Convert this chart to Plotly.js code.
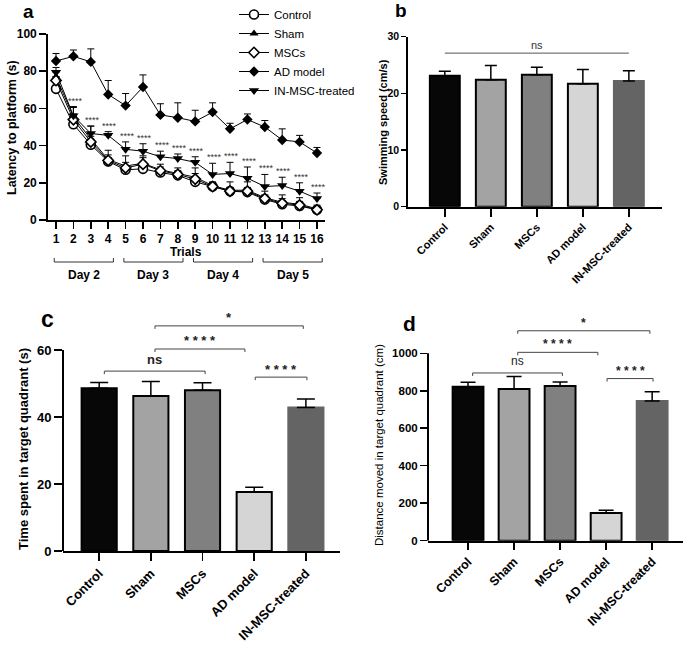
<!DOCTYPE html>
<html>
<head>
<meta charset="utf-8">
<script src="https://cdn.plot.ly/plotly-3.0.1.min.js"></script>
<style>
  body { margin: 0; background: #fff; }
  #chart { width: 685px; height: 646px; }
</style>
</head>
<body>
<div id="chart"></div>
<script>
const W = 685, H = 646;

// ---- data ----
const trials = [1, 2, 3, 4, 5, 6, 7, 8, 9, 10, 11, 12, 13, 14, 15, 16];
const groups = ['Control', 'Sham', 'MSCs', 'AD model', 'IN-MSC-treated'];
const days = ['Day 2', 'Day 3', 'Day 4', 'Day 5'];
const trialsPerDay = 4;

// panel a: latency to platform (s), mean and upper SEM
const latencyControl = [70.5, 51.5, 40.5, 31.5, 27, 27.5, 25.5, 24, 20.5, 18, 15.5, 15, 11, 8.5, 7.5, 5.5];
const latencySham = [77, 55.5, 43.5, 32.5, 29, 30.5, 27, 25, 23, 18.5, 16, 16, 12, 9.5, 8.5, 6];
const latencyMSCs = [75, 54, 42, 32, 28, 30, 26.5, 24.5, 22, 18, 15.5, 15.5, 11.5, 9, 8, 5.5];
const latencyAD = [85.5, 88, 85, 67.5, 61.5, 71.5, 56.5, 55, 53, 58, 49, 54, 50, 43, 42, 36];
const latencyIN = [79.5, 56, 46.5, 45.5, 38, 37, 34, 33, 31, 24.5, 25, 22.5, 18, 18.5, 15.5, 11.5];

const latencyControlErr = [2, 2.5, 2.5, 2, 2, 2, 2, 2, 2, 2, 2, 2, 2, 2, 1.5, 1.5];
const latencyShamErr = [3, 5, 7, 5, 5.5, 4, 3, 3, 5, 2, 4.5, 4.5, 3.5, 4, 3.5, 2];
const latencyMSCsErr = [2, 3, 3, 3, 3, 3.5, 2, 2, 3, 2, 2, 2, 2, 2.5, 2, 1.5];
const latencyADErr = [4, 3.4, 7, 7.5, 6.5, 6.5, 6, 8, 6, 5, 3, 3, 3.5, 6, 3.5, 3];
const latencyINErr = [2.5, 5, 4, 2, 4, 4, 3, 2.5, 3, 6, 6, 6, 6.5, 4.5, 4.5, 3];

// significance of IN-MSC-treated vs AD model per trial
const latencySig = ['', '****', '****', '****', '****', '****', '****', '****', '****', '****', '****', '****', '****', '****', '****', '****'];

// panel b: swimming speed (cm/s)
const swimSpeed = [23.1, 22.4, 23.3, 21.7, 22.2];
const swimSpeedErr = [0.8, 2.5, 1.3, 2.5, 1.8];
const swimSig = 'ns';

// panel c: time spent in target quadrant (s)
const timeInQuadrant = [48.6, 46.3, 48.0, 17.6, 42.8];
const timeInQuadrantErr = [1.7, 4.3, 2.2, 1.4, 2.6];

// panel d: distance moved in target quadrant (cm)
const distanceMoved = [822, 810, 825, 148, 745];
const distanceMovedErr = [24, 66, 22, 14, 50];

// comparisons drawn above c and d: [from group, to group, label]
const comparisons = [[0, 2, 'ns'], [1, 3, '****'], [1, 4, '*'], [3, 4, '****']];

// ---- helpers ----
const FONT = 'Liberation Sans, Arial, Helvetica, sans-serif';
const px = v => v / W;
const py = v => 1 - v / H;
const zeros = arr => arr.map(() => 0);
const groupX = groups.map((g, i) => i);

const barColors = ['#070707', '#a3a3a3', '#808080', '#d5d5d5', '#646464'];
const barEdges = ['#000', '#000', '#000', '#000', '#646464'];

function axis(extra) {
    return Object.assign({
        showline: true, linecolor: 'black', linewidth: 1.8,
        ticks: 'outside', tickcolor: 'black', tickwidth: 1.5,
        showgrid: false, zeroline: false, fixedrange: true,
        tickfont: { family: FONT, size: 12, color: 'black', weight: 'bold' }
    }, extra);
}

function bold(size) {
    return { family: FONT, size: size, color: 'black', weight: 'bold' };
}

// ---- panel a traces ----
const latencySeries = [
    { name: groups[0], y: latencyControl, e: latencyControlErr,
      marker: { symbol: 'circle', size: 9, color: 'white', line: { color: 'black', width: 1.6 } } },
    { name: groups[1], y: latencySham, e: latencyShamErr,
      marker: { symbol: 'triangle-up', size: 8, color: 'black' } },
    { name: groups[2], y: latencyMSCs, e: latencyMSCsErr,
      marker: { symbol: 'diamond', size: 8, color: 'white', line: { color: 'black', width: 1.6 } } },
    { name: groups[3], y: latencyAD, e: latencyADErr,
      marker: { symbol: 'diamond', size: 8, color: 'black' } },
    { name: groups[4], y: latencyIN, e: latencyINErr,
      marker: { symbol: 'triangle-down', size: 9, color: 'black' } }
];

const traces = latencySeries.map(s => ({
    type: 'scatter', mode: 'lines+markers', name: s.name,
    x: trials, y: s.y, xaxis: 'x', yaxis: 'y',
    line: { color: 'black', width: 1 },
    marker: s.marker,
    error_y: { type: 'data', symmetric: false, array: s.e, arrayminus: zeros(s.e),
               color: 'black', thickness: 1, width: 3.5 }
}));

// ---- bar panels ----
function barTrace(vals, errs, xa, ya, w, cap) {
    return {
        type: 'bar', x: groupX, y: vals, xaxis: xa, yaxis: ya, width: w, showlegend: false,
        marker: { color: barColors, line: { color: barEdges, width: 2 } },
        error_y: { type: 'data', symmetric: false, array: errs, arrayminus: zeros(errs),
                   color: 'black', thickness: 1.5, width: cap }
    };
}
traces.push(barTrace(swimSpeed, swimSpeedErr, 'x2', 'y2', 0.65, 6));
traces.push(barTrace(timeInQuadrant, timeInQuadrantErr, 'x3', 'y3', 0.68, 9));
traces.push(barTrace(distanceMoved, distanceMovedErr, 'x4', 'y4', 0.67, 7.5));

// ---- shapes & annotations ----
const shapes = [];
const annotations = [];

// star labels over IN-MSC-treated points
trials.forEach((t, i) => {
    if (!latencySig[i]) return;
    annotations.push({
        xref: 'x', yref: 'y', x: t + 0.1, y: latencyIN[i] + latencyINErr[i],
        text: latencySig[i], showarrow: false, xanchor: 'center', yanchor: 'bottom', yshift: -1,
        font: { family: FONT, size: 9, color: '#333' }
    });
});

// day brackets under trials axis
days.forEach((d, k) => {
    const first = trials[k * trialsPerDay];
    const last = trials[k * trialsPerDay + trialsPerDay - 1];
    const x0 = first - 0.1, x1 = last + 0.3;
    shapes.push({
        type: 'path', xref: 'x', yref: 'paper',
        path: `M${x0},${py(258)} L${x0},${py(262)} L${x1},${py(262)} L${x1},${py(258)}`,
        line: { color: '#333', width: 1 }
    });
    annotations.push({
        xref: 'x', yref: 'paper', x: (x0 + x1) / 2, y: py(275), text: d,
        xanchor: 'center', yanchor: 'middle', showarrow: false, font: bold(12)
    });
});

// ns line in panel b
const swimLevel = 27.1;
shapes.push({ type: 'line', xref: 'x2', yref: 'y2', x0: 0, x1: 4, y0: swimLevel, y1: swimLevel,
              line: { color: '#555', width: 1 } });
annotations.push({ xref: 'x2', yref: 'y2', x: 2, y: swimLevel, yshift: 8, text: swimSig,
                   xanchor: 'center', yanchor: 'middle',
                   showarrow: false, font: { family: FONT, size: 11, color: '#333' } });

// comparison brackets in c and d
const bracketInsets = [[0.1, 0.05], [0.08, -0.18], [0.08, -0.05], [0.02, 0.02]];
const bracketLevels = [0.895, 1.005, 1.12, 0.865];
function addBrackets(xa, ya, top, tick, textSize, nsBold) {
    comparisons.forEach((c, k) => {
        const x0 = c[0] + bracketInsets[k][0], x1 = c[1] + bracketInsets[k][1];
        const y = top * bracketLevels[k];
        shapes.push({
            type: 'path', xref: xa, yref: ya,
            path: `M${x0},${y - tick} L${x0},${y} L${x1},${y} L${x1},${y - tick}`,
            line: { color: '#444', width: 1 }
        });
        const isStar = c[2].indexOf('*') >= 0;
        annotations.push({
            xref: xa, yref: ya, x: (x0 + x1) / 2, y: y, yshift: isStar ? 8 : 12,
            xanchor: 'center', yanchor: 'middle',
            text: isStar ? c[2].split('').join(' ') : c[2], showarrow: false,
            font: { family: FONT, size: textSize, color: '#222', weight: (nsBold || isStar) ? 'bold' : 'normal' }
        });
    });
}
addBrackets('x3', 'y3', 60, 0.9, 13, true);
addBrackets('x4', 'y4', 1000, 16, 12, false);

// y-axis lines for c and d (stop at top tick)
shapes.push({ type: 'line', xref: 'paper', yref: 'y3', x0: px(63), x1: px(63), y0: 0, y1: 60,
              line: { color: 'black', width: 2 } });
shapes.push({ type: 'line', xref: 'paper', yref: 'y4', x0: px(428), x1: px(428), y0: 0, y1: 1000,
              line: { color: 'black', width: 2 } });

// titles and panel letters
function paperText(text, x, y, font, angle, vAnchor) {
    annotations.push({ xref: 'paper', yref: 'paper', x: px(x), y: py(y), text: text,
                       xanchor: 'center', yanchor: vAnchor || 'middle', borderpad: 0,
                       showarrow: false, font: font, textangle: angle || 0 });
}
paperText('a', 28, 0, bold(19), 0, 'top');
paperText('b', 401, 11, bold(19));
paperText('c', 47, 319, bold(23));
paperText('d', 409, 323, bold(21));
paperText('Latency to platform (s)', 12, 128, bold(12.5), -90);
paperText('Trials', 186, 252, bold(12));
paperText('Swimming speed (cm/s)', 383, 122, bold(11), -90);
paperText('Time spent in target quadrant (s)', 23, 449, bold(13), -90);
paperText('Distance moved in target quadrant (cm)', 379, 445,
          { family: FONT, size: 11.5, color: 'black' }, -90);

const layout = {
    width: W, height: H,
    margin: { l: 0, r: 0, t: 0, b: 0 },
    paper_bgcolor: 'white', plot_bgcolor: 'white',
    showlegend: true,
    legend: { x: px(234), y: py(0), xanchor: 'left', yanchor: 'top',
              font: { family: FONT, size: 11.5, color: 'black' },
              bgcolor: 'rgba(0,0,0,0)', tracegroupgap: 0 },
    xaxis: axis({ domain: [px(48), px(325)], range: [0.54, 16.46], anchor: 'y',
                  tickvals: trials, ticklen: 7 }),
    yaxis: axis({ domain: [py(220), py(34)], range: [0, 100], anchor: 'x',
                  tickvals: [0, 20, 40, 60, 80, 100], ticklen: 7 }),
    xaxis2: axis({ domain: [px(408), px(662)], range: [-0.8, 4.72], anchor: 'y2',
                   tickvals: groupX, ticktext: groups, tickangle: -45, ticklen: 8,
                   tickfont: bold(11) }),
    yaxis2: axis({ domain: [py(206.7), py(36.7)], range: [0, 30], anchor: 'x2',
                   tickvals: [0, 10, 20, 30], ticklen: 5, tickfont: bold(10.5) }),
    xaxis3: axis({ domain: [px(63), px(340)], range: [-0.7, 4.66], anchor: 'y3',
                   tickvals: groupX, ticktext: groups, tickangle: -45, ticklen: 8,
                   tickfont: bold(13) }),
    yaxis3: axis({ domain: [py(551), py(551 - 72 * 3.35)], range: [0, 72], anchor: 'x3',
                   tickvals: [0, 20, 40, 60], ticklen: 8, showline: false, tickfont: bold(13) }),
    xaxis4: axis({ domain: [px(428), px(683)], range: [-0.87, 4.67], anchor: 'y4',
                   tickvals: groupX, ticktext: groups, tickangle: -45, ticklen: 7,
                   tickfont: bold(12.5) }),
    yaxis4: axis({ domain: [py(540.7), py(540.7 - 1200 * 0.18743)], range: [0, 1200], anchor: 'x4',
                   tickvals: [0, 200, 400, 600, 800, 1000], ticklen: 7, showline: false,
                   tickfont: bold(11.5) }),
    shapes: shapes,
    annotations: annotations
};

Plotly.newPlot('chart', traces, layout, { displayModeBar: false, staticPlot: true });
</script>
</body>
</html>
